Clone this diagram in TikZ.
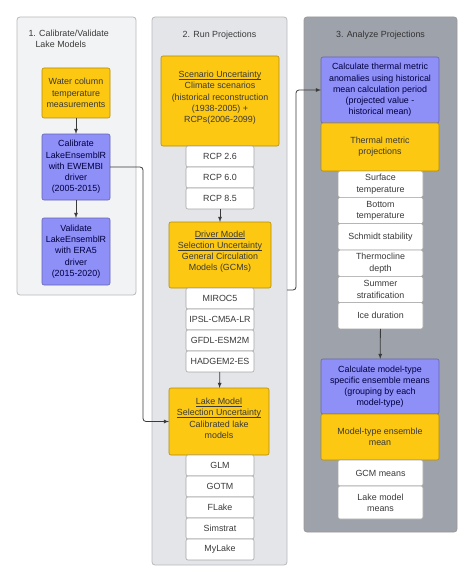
\documentclass[tikz,border=0pt]{standalone}
\usepackage{fontspec}
\setmainfont{Liberation Sans}
\usepackage{xcolor}
\usepackage{tikz}
\definecolor{boxyellow}{HTML}{FCC812}
\definecolor{boxblue}{HTML}{8F8FF8}
\definecolor{paneone}{HTML}{F2F3F5}
\definecolor{panetwo}{HTML}{E3E5E9}
\definecolor{panethree}{HTML}{9EA2AA}
\definecolor{inkgray}{HTML}{3A3A3A}
\newcommand{\hdr}[1]{\underline{\smash{#1}}}

\begin{document}
\begin{tikzpicture}[x=1pt, y=-1pt,
    panel/.style={shape=rectangle, rounded corners=3pt, draw=gray!55, line width=0.8pt, inner sep=0pt, outer sep=0pt},
    box/.style={shape=rectangle, rounded corners=2pt, draw, line width=0.6pt, align=center, inner sep=1pt, outer sep=0pt,
        text=inkgray, font=\fontsize{8.9}{11.2}\selectfont},
    yel/.style={box, fill=boxyellow, draw=boxyellow!70!black, minimum width=#1},
    blu/.style={box, fill=boxblue, draw=boxblue!70!black, text=black!75!blue, minimum width=#1},
    item/.style={box, fill=white, draw=gray!70, minimum width=#1},
    ttl/.style={text=inkgray, font=\fontsize{8.9}{10.8}\selectfont},
    conn/.style={draw=inkgray, line width=0.8pt, rounded corners=3pt}]
    \useasboundingbox (0,0) rectangle (474,583);

    % the three panels
    \node (p1) [panel, fill=paneone, minimum width=119pt, minimum height=278pt] at (76.5,156) {};
    \node (p2) [panel, fill=panetwo, minimum width=135pt, minimum height=548pt] at (219.5,291) {};
    \node (p3) [panel, fill=panethree, draw=gray!80, minimum width=153pt, minimum height=515pt] at (380.5,274.5) {};

    \node (t1) [ttl, anchor=north west, align=left] at (25,27) {1. Calibrate/Validate\\\hspace*{7pt}Lake Models};
    \node (t2) [ttl] at (219.5,35) {2. Run Projections};
    \node (t3) [ttl, text=black!80] at (380.5,35) {3. Analyze Projections};

    % 1. calibrate / validate
    \node (water) [yel=68pt, minimum height=50pt] at (76,93) {Water column\\temperature\\measurements};
    \node (calib) [blu=68pt, minimum height=66pt] at (76,167) {Calibrate\\LakeEnsemblR\\with EWEMBI\\driver\\(2005-2015)};
    \node (valid) [blu=68pt, minimum height=67pt] at (76,251.5) {Validate\\LakeEnsemblR\\with ERA5\\driver\\(2015-2020)};

    % 2. run projections
    \node (scen) [yel=118pt, minimum height=90pt] at (220,101) {\hdr{Scenario Uncertainty}\\Climate scenarios\\(historical reconstruction\\(1938-2005) +\\RCPs(2006-2099)};
    \node (rcpA) [item=68pt, minimum height=21pt] at (220,156.5) {RCP 2.6};
    \node (rcpB) [item=68pt, minimum height=21pt] at (220,177.5) {RCP 6.0};
    \node (rcpC) [item=68pt, minimum height=21pt] at (220,198.5) {RCP 8.5};

    \node (driver) [yel=102pt, minimum height=66pt] at (220,255) {\hdr{Driver Model}\\\hdr{Selection Uncertainty}\\General Circulation\\Models (GCMs)};
    \node (gcmA) [item=68pt, minimum height=21pt] at (220,298.5) {MIROC5};
    \node (gcmB) [item=68pt, minimum height=21pt] at (220,319.5) {IPSL-CM5A-LR};
    \node (gcmC) [item=68pt, minimum height=21pt] at (220,340.5) {GFDL-ESM2M};
    \node (gcmD) [item=68pt, minimum height=21pt] at (220,361.5) {HADGEM2-ES};

    \node (lake) [yel=100pt, minimum height=67pt] at (219,421.5) {\hdr{Lake Model}\\\hdr{Selection Uncertainty}\\Calibrated lake\\models};
    \node (glm) [item=68pt, minimum height=21pt] at (220,465.5) {GLM};
    \node (gotm) [item=68pt, minimum height=21pt] at (220,486.5) {GOTM};
    \node (flake) [item=68pt, minimum height=21pt] at (220,507.5) {FLake};
    \node (simstrat) [item=68pt, minimum height=21pt] at (220,528.5) {Simstrat};
    \node (mylake) [item=68pt, minimum height=21pt] at (220,549.5) {MyLake};

    % 3. analyze projections
    \node (anom) [blu=118pt, minimum height=66pt] at (380,90) {Calculate thermal metric\\anomalies using historical\\mean calculation period\\(projected value -\\historical mean)};
    \node (therm) [yel=118pt, minimum height=48pt] at (380,147) {Thermal metric\\projections};
    \node (surf) [item=85pt, minimum height=26.3pt] at (380.5,184.2) {Surface\\temperature};
    \node (bott) [item=85pt, minimum height=26.3pt] at (380.5,210.5) {Bottom\\temperature};
    \node (schm) [item=85pt, minimum height=26.3pt] at (380.5,236.8) {Schmidt stability};
    \node (thcl) [item=85pt, minimum height=26.3pt] at (380.5,263.2) {Thermocline\\depth};
    \node (strat) [item=85pt, minimum height=26.3pt] at (380.5,289.5) {Summer\\stratification};
    \node (ice) [item=85pt, minimum height=26.3pt] at (380.5,315.8) {Ice duration};

    \node (ensA) [blu=118pt, minimum height=55pt] at (380,386.5) {Calculate model-type\\specific ensemble means\\(grouping by each\\model-type)};
    \node (ensB) [yel=118pt, minimum height=46pt] at (380,437) {Model-type ensemble\\mean};
    \node (gcmm) [item=85pt, minimum height=26pt] at (380.5,473) {GCM means};
    \node (lakem) [item=85pt, minimum height=33pt] at (380.5,502.5) {Lake model\\means};

    % connectors
    \coordinate (c1) at (143,0);
    \coordinate (c2) at (296,290);
    \draw[conn,-latex] (water) -- (calib);
    \draw[conn,-latex] (calib) -- (valid);
    \draw[conn,-latex] (rcpC) -- (driver);
    \draw[conn,-latex] (gcmD) -- (lake);
    \draw[conn,-latex] (ice) -- (ensA);
    \draw[conn,-latex] (calib.east) -- (calib.east -| c1) -- (c1 |- lake.west) -- (lake.west);
    \draw[conn,-latex] (c2 -| p2.east) -- (c2) -- (c2 |- anom.west) -- (anom.west);
\end{tikzpicture}
\end{document}
